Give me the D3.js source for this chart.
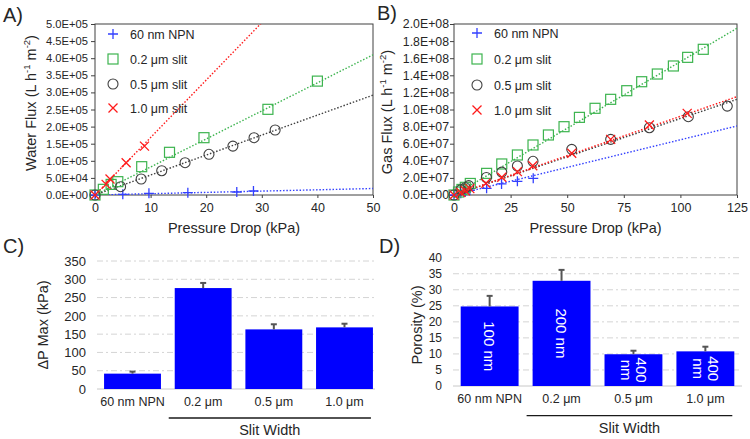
<!DOCTYPE html>
<html><head><meta charset="utf-8">
<script src="https://cdn.jsdelivr.net/npm/d3@7"></script>
<style>body{margin:0;background:#fff} svg{display:block;font-family:"Liberation Sans",Arial,sans-serif}</style>
</head><body><svg id="c" width="750" height="439"></svg>
<script>
// ---------- data ----------
const seriesNames = ["60 nm NPN", "0.2 \u03bcm slit", "0.5 \u03bcm slit", "1.0 \u03bcm slit"];

// Panel A: water flux (kPa, L h-1 m-2)
const waterNPN = [[0,0],[5,2000],[9.7,5000],[16.7,6700],[25.5,8800],[28.5,11700]];
const water02  = [[0,0],[1.5,16600],[2.9,31000],[4.1,39000],[8.4,82800],[13.4,124800],[19.6,167600],[31.1,250500],[40,333000]];
const water05  = [[0,0],[4.6,24300],[8.3,46800],[12,71000],[16.2,94500],[20.5,119000],[24.8,143000],[28.6,167600],[32.4,190000]];
const water10  = [[0,0],[2,31000],[2.7,46800],[5.6,94500],[8.9,143000]];
const waterSlopes = [380, 8200, 5840, 16800];
const waterYTicks = [0,50000,100000,150000,200000,250000,300000,350000,400000,450000,500000];
const waterXTicks = [0,10,20,30,40,50];

// Panel B: gas flux
const gasNPN = [[0,0],[3,2000000],[5,3800000],[7,5500000],[14.4,7800000],[21,13000000],[28,16000000],[35,19500000]];
const gas02  = [[0,0],[2,3500000],[3.5,6500000],[5,9000000],[7.2,13500000],[14.4,25300000],[21.1,36300000],[28,46800000],[34.9,58500000],[41.7,70200000],[48.6,79900000],[55.4,90800000],[62.3,101400000],[69.2,111900000],[76.3,122000000],[82.9,132500000],[89.8,141500000],[96.9,150900000],[103.2,161000000],[110.1,170400000]];
const gas05  = [[0,0],[3,6000000],[5,8500000],[6.5,11000000],[14.3,20500000],[21.1,26800000],[28,33900000],[34.9,39400000],[52,53400000],[69.2,65100000],[86.3,78700000],[103.5,91600000],[120.7,104000000]];
const gas10  = [[0,0],[3,3000000],[5,5000000],[7,7500000],[14.1,13700000],[21.1,20700000],[28,27300000],[34.8,34300000],[52,48800000],[69.2,65100000],[86.3,81900000],[103,95500000]];
const gasSlopes = [646000, 1560000, 895000, 920000];
const gasYTicks = [0,2e7,4e7,6e7,8e7,1e8,1.2e8,1.4e8,1.6e8,1.8e8,2e8];
const gasXTicks = [0,25,50,75,100,125];

// Panel C / D: bars
const barCategories = ["60 nm NPN", "0.2 \u03bcm", "0.5 \u03bcm", "1.0 \u03bcm"];
const dpMax    = [42, 276, 163, 168.5];
const dpMaxErr = [5.5, 14, 14, 10];
const dpTicks  = [0,50,100,150,200,250,300,350];
const porosity    = [24.8, 32.8, 9.9, 10.8];
const porosityErr = [3.3, 3.4, 1.1, 1.45];
const porTicks    = [0,5,10,15,20,25,30,35,40];
const poreLabels  = [["100 nm"], ["200 nm"], ["400", "nm"], ["400", "nm"]];

// ---------- styles ----------
const colors = ["#3340ff", "#3db44f", "#404040", "#ff1a1a"];
const textCol = "#262626";
const svg = d3.select("#c");

function sci(d) {
  if (d === 0) return "0.0E+00";
  const e = Math.floor(Math.log10(d) + 1e-9);
  const m = d / Math.pow(10, e);
  return m.toFixed(1) + "E+" + String(e).padStart(2, "0");
}

function marker(g, type, x, y, col) {
  const s = 5;
  if (type === 0) {
    g.append("path").attr("d", `M${x-s},${y}H${x+s}M${x},${y-s}V${y+s}`).attr("stroke", col).attr("stroke-width", 1.3).attr("fill", "none");
  } else if (type === 1) {
    g.append("rect").attr("x", x-5).attr("y", y-5).attr("width", 10).attr("height", 10).attr("fill", "none").attr("stroke", col).attr("stroke-width", 1.2);
  } else if (type === 2) {
    g.append("circle").attr("cx", x).attr("cy", y).attr("r", 5).attr("fill", "none").attr("stroke", col).attr("stroke-width", 1.1);
  } else {
    const t = 4.5;
    g.append("path").attr("d", `M${x-t},${y-t}L${x+t},${y+t}M${x-t},${y+t}L${x+t},${y-t}`).attr("stroke", col).attr("stroke-width", 1.3).attr("fill", "none");
  }
}

function scatterPanel(opt) {
  const x = d3.scaleLinear().domain(opt.xDom).range(opt.xr);
  const y = d3.scaleLinear().domain(opt.yDom).range(opt.yr);
  const g = svg.append("g");
  const clipId = "clip" + opt.id;
  svg.append("clipPath").attr("id", clipId).append("rect")
    .attr("x", opt.xr[0]).attr("y", opt.yr[1]).attr("width", opt.xr[1]-opt.xr[0]).attr("height", opt.yr[0]-opt.yr[1]);
  // frame
  g.append("rect").attr("x", opt.xr[0]).attr("y", opt.yr[1]).attr("width", opt.xr[1]-opt.xr[0]).attr("height", opt.yr[0]-opt.yr[1])
    .attr("fill", "none").attr("stroke", "#404040").attr("stroke-width", 1);
  // axes
  const ya = d3.axisLeft(y).tickValues(opt.yTicks).tickFormat(sci).tickSize(4).tickPadding(opt.yPad);
  const ax = g.append("g").attr("transform", `translate(${opt.xr[0]},0)`).call(ya);
  ax.select(".domain").remove();
  ax.selectAll("line").attr("stroke", "#404040");
  ax.selectAll("text").attr("font-size", opt.tickFs).attr("fill", textCol).attr("font-family", "Liberation Sans, Arial");
  const xa = d3.axisBottom(x).tickValues(opt.xTicks).tickSize(3).tickPadding(5);
  const bx = g.append("g").attr("transform", `translate(0,${opt.yr[0]})`).call(xa);
  bx.select(".domain").remove();
  bx.selectAll("line").attr("stroke", "#404040");
  bx.selectAll("text").attr("font-size", 12.5).attr("fill", textCol).attr("font-family", "Liberation Sans, Arial");
  // fit lines
  const lg = g.append("g").attr("clip-path", `url(#${clipId})`);
  opt.slopes.forEach((s, i) => {
    const xEnd = opt.xDom[1];
    lg.append("line").attr("x1", x(0)).attr("y1", y(0)).attr("x2", x(xEnd)).attr("y2", y(s * xEnd))
      .attr("stroke", colors[i]).attr("stroke-width", 1.4).attr("stroke-dasharray", "1.5,1.8");
  });
  // points
  const pg = g.append("g");
  opt.series.forEach((ser, i) => {
    ser.forEach(p => marker(pg, i, x(p[0]), y(p[1]), colors[i]));
  });
  // legend
  seriesNames.forEach((n, i) => {
    const ly = opt.legY[i];
    marker(g, i, opt.legX, ly, colors[i]);
    g.append("text").attr("x", opt.legX + 17).attr("y", ly + 4.5).attr("font-size", 12.5).attr("fill", textCol).text(n);
  });
  // titles
  const yt = g.append("text").attr("transform", `translate(${opt.yTitle[0]},${opt.yTitle[1]}) rotate(-90)`)
    .attr("text-anchor", "middle").attr("font-size", 14.5).attr("fill", textCol);
  yt.append("tspan").text(opt.yLabel + " (L h");
  yt.append("tspan").attr("font-size", 9.5).attr("dy", -6).text("-1");
  yt.append("tspan").attr("dy", 6).text(" m");
  yt.append("tspan").attr("font-size", 9.5).attr("dy", -6).text("-2");
  yt.append("tspan").attr("dy", 6).text(")");
  g.append("text").attr("x", (opt.xr[0]+opt.xr[1])/2).attr("y", 233).attr("text-anchor", "middle")
    .attr("font-size", 14.5).attr("fill", textCol).text("Pressure Drop (kPa)");
}

scatterPanel({id: "A", xDom: [0,50], yDom: [0,500000], xr: [95,373], yr: [195,24],
  yTicks: waterYTicks, xTicks: waterXTicks, tickFs: 11.2, yPad: 3,
  slopes: waterSlopes, series: [waterNPN, water02, water05, water10],
  legX: 113, legY: [34, 59, 84, 108], yTitle: [36, 103], yLabel: "Water Flux"});
scatterPanel({id: "B", xDom: [0,125], yDom: [0,2e8], xr: [454,737], yr: [195,24],
  yTicks: gasYTicks, xTicks: gasXTicks, tickFs: 12.3, yPad: 1,
  slopes: gasSlopes, series: [gasNPN, gas02, gas05, gas10],
  legX: 477, legY: [33, 59, 85, 110], yTitle: [392, 112], yLabel: "Gas Flux"});

function barPanel(opt) {
  const x = d3.scaleBand().domain(barCategories).range(opt.xr).paddingInner(0.195).paddingOuter(0.1);
  const y = d3.scaleLinear().domain(opt.yDom).range(opt.yr);
  const g = svg.append("g");
  // gridlines
  opt.ticks.forEach(t => {
    g.append("line").attr("x1", opt.gridX[0]).attr("x2", opt.gridX[1]).attr("y1", y(t)).attr("y2", y(t))
      .attr("stroke", t === 0 ? "#c8c8c8" : "#d4d4d4").attr("stroke-width", 1)
      .attr("stroke-dasharray", t === 0 ? null : "6,3,2,3");
  });
  const ya = d3.axisLeft(y).tickValues(opt.ticks).tickSize(0).tickPadding(0);
  const ax = g.append("g").attr("transform", `translate(${opt.tickX},0)`).call(ya);
  ax.select(".domain").remove();
  ax.selectAll("text").attr("font-size", opt.tickFs).attr("fill", textCol).attr("font-family", "Liberation Sans, Arial");
  // bars
  opt.values.forEach((v, i) => {
    const c = barCategories[i];
    g.append("rect").attr("x", x(c)).attr("y", y(v)).attr("width", x.bandwidth()).attr("height", y(0) - y(v)).attr("fill", "#0000ff");
    const cx = x(c) + x.bandwidth()/2;
    g.append("line").attr("x1", cx).attr("x2", cx).attr("y1", y(v)).attr("y2", y(v + opt.errs[i])).attr("stroke", "#555").attr("stroke-width", 2);
    g.append("line").attr("x1", cx-3).attr("x2", cx+3).attr("y1", y(v + opt.errs[i])).attr("y2", y(v + opt.errs[i])).attr("stroke", "#555").attr("stroke-width", 2);
    g.append("text").attr("x", cx).attr("y", opt.catY).attr("text-anchor", "middle").attr("font-size", 12.5).attr("fill", textCol).text(c);
    if (opt.inner) {
      const lines = opt.inner[i];
      const cy = (y(v) + y(0)) / 2;
      const t = g.append("text").attr("transform", `translate(${cx},${cy}) rotate(90)`).attr("text-anchor", "middle")
        .attr("font-size", 15).attr("fill", "#fff");
      const n = lines.length;
      lines.forEach((ln, k) => {
        t.append("tspan").attr("x", 0).attr("y", (k - (n - 1) / 2) * 15 + 5.3).text(ln);
      });
    }
  });
  // slit group
  const x0 = x(barCategories[1]) - 6, x1 = x(barCategories[3]) + x.bandwidth() - 2;
  g.append("line").attr("x1", x0).attr("x2", x1).attr("y1", opt.slitY).attr("y2", opt.slitY).attr("stroke", "#1a1a1a").attr("stroke-width", 1.3);
  g.append("text").attr("x", (x0 + x1) / 2).attr("y", opt.slitY + 17).attr("text-anchor", "middle").attr("font-size", 14.5).attr("fill", textCol).text("Slit Width");
  g.append("text").attr("transform", `translate(${opt.yTitle[0]},${opt.yTitle[1]}) rotate(-90)`).attr("text-anchor", "middle")
    .attr("font-size", 14.5).attr("fill", textCol).text(opt.yLabel);
}

barPanel({xr: [97,380], yDom: [0,350], yr: [389,261], ticks: dpTicks, gridX: [97,375], tickX: 86, tickFs: 13,
  values: dpMax, errs: dpMaxErr, catY: 405.5, slitY: 418, yTitle: [48, 325], yLabel: "\u0394P Max (kPa)"});
barPanel({xr: [453.5,741.5], yDom: [0,40], yr: [386,257.7], ticks: porTicks, gridX: [453,742], tickX: 442, tickFs: 12,
  values: porosity, errs: porosityErr, catY: 402.5, slitY: 415.7, yTitle: [422, 325], yLabel: "Porosity (%)", inner: poreLabels});

// panel letters
[["A)", 3, 22], ["B)", 377, 20], ["C)", 3, 253], ["D)", 379, 253]].forEach(d => {
  svg.append("text").attr("x", d[1]).attr("y", d[2]).attr("font-size", 20).attr("fill", textCol).text(d[0]);
});
</script></body></html>
